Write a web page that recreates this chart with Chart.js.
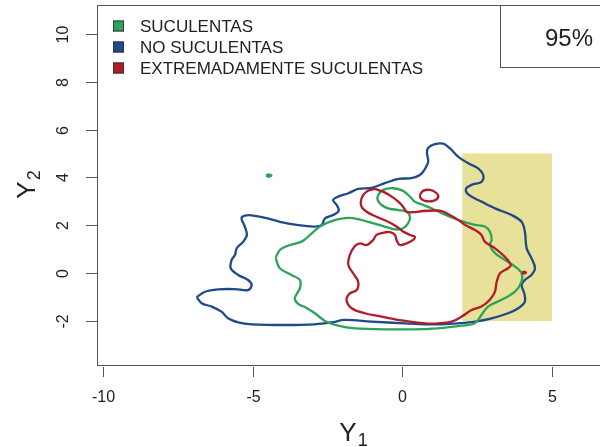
<!DOCTYPE html>
<html>
<head>
<meta charset="utf-8">
<script src="https://cdn.jsdelivr.net/npm/chart.js@4/dist/chart.umd.min.js"></script>
<style>
  html, body { margin: 0; padding: 0; background: #fff; overflow: hidden; }
  #wrap { width: 600px; height: 447px; overflow: hidden; position: relative; }
  canvas { display: block; }
</style>
</head>
<body>
<div id="wrap"><canvas id="c" width="640" height="447"></canvas></div>
<script>
// Axis ticks
const xTicks = [-10, -5, 0, 5];
const yTicks = [-2, 0, 2, 4, 6, 8, 10];

// Groups shown in the legend
const groupNames = ['SUCULENTAS', 'NO SUCULENTAS', 'EXTREMADAMENTE SUCULENTAS'];
const groupColors = ['#2ea35a', '#1e4a8a', '#b01c28'];

// Shaded region (Y1 range, Y2 range)
const shadeY1 = [2, 5];
const shadeY2 = [-2, 5];

// 95% density contours, as [Y1, Y2] pairs
const noSuculentas = [
  [-6.88,-1.00],[-6.60,-0.77],[-6.16,-0.67],[-5.60,-0.66],[-5.16,-0.70],[-5.04,-0.49],[-5.16,-0.28],
  [-5.49,-0.07],[-5.74,0.21],[-5.71,0.56],[-5.60,0.76],[-5.54,1.04],[-5.32,1.32],[-5.20,1.60],
  [-5.27,1.95],[-5.38,2.30],[-5.27,2.41],[-5.04,2.42],[-4.54,2.30],[-4.10,2.15],[-3.54,2.02],
  [-2.98,1.95],[-2.70,2.02],[-2.59,2.29],[-2.32,2.43],[-2.13,2.60],[-2.20,2.85],[-2.32,3.06],
  [-2.15,3.20],[-1.81,3.34],[-1.48,3.52],[-1.03,3.57],[-0.59,3.76],[-0.14,3.94],[0.30,3.97],
  [0.58,4.10],[0.75,4.35],[0.86,4.66],[0.82,5.01],[0.85,5.22],[1.08,5.39],[1.36,5.41],[1.58,5.22],
  [1.86,4.87],[2.20,4.59],[2.53,4.38],[2.70,4.10],[2.64,3.82],[2.31,3.69],[2.12,3.52],[2.22,3.27],
  [2.64,2.99],[3.09,2.71],[3.65,2.43],[3.98,2.15],[4.09,1.74],[4.15,1.04],[4.31,0.63],[4.43,0.21],
  [4.31,-0.07],[4.09,-0.28],[3.98,-0.49],[4.07,-0.84],[4.09,-1.19],[3.87,-1.46],[3.53,-1.67],
  [2.98,-1.88],[2.42,-2.02],[1.86,-2.09],[1.31,-2.13],[0.75,-2.13],[0.08,-2.09],[-1.03,-2.02],
  [-1.93,-1.95],[-2.37,-2.05],[-2.93,-2.13],[-3.93,-2.16],[-5.04,-2.13],[-5.49,-2.05],[-5.83,-1.88],
  [-6.05,-1.60],[-6.38,-1.39],[-6.71,-1.25],[-6.88,-1.00]
];

const suculentas = [
  [-4.24,0.63],[-4.10,0.97],[-3.76,1.18],[-3.37,1.32],[-3.09,1.60],[-2.76,1.95],[-2.32,2.20],
  [-1.76,2.31],[-1.15,2.15],[-0.59,1.95],[-0.25,1.83],[0.02,1.88],[0.19,2.09],[0.25,2.36],
  [0.14,2.57],[-0.14,2.64],[-0.48,2.71],[-0.70,2.85],[-0.83,3.06],[-0.81,3.27],[-0.65,3.48],
  [-0.31,3.55],[0.02,3.44],[0.25,3.20],[0.41,2.99],[0.69,2.85],[0.97,2.71],[1.31,2.51],[1.58,2.36],
  [1.92,2.20],[2.42,2.02],[2.75,1.95],[2.92,1.74],[2.98,1.39],[2.92,1.18],[3.09,0.84],[3.42,0.56],
  [3.76,0.28],[3.98,0.00],[3.98,-0.35],[3.76,-0.77],[3.31,-1.11],[2.86,-1.39],[2.64,-1.74],
  [2.42,-2.09],[1.98,-2.19],[1.42,-2.27],[0.75,-2.33],[-0.48,-2.34],[-1.59,-2.30],[-2.15,-2.19],
  [-2.59,-1.99],[-2.93,-1.67],[-3.26,-1.41],[-3.49,-1.28],[-3.60,-1.04],[-3.43,-0.63],[-3.43,-0.28],
  [-3.71,-0.07],[-4.10,0.21],[-4.24,0.63]
];
const suculentasIsle = [[-4.56,4.08],[-4.47,4.13],[-4.38,4.08],[-4.47,4.03],[-4.56,4.08]];

const extremas = [
  [-0.92,3.52],[-0.65,3.41],[-0.36,3.20],[-0.14,2.99],[0.02,2.78],[0.14,2.57],[0.36,2.55],
  [0.69,2.60],[1.08,2.62],[1.31,2.60],[1.58,2.43],[1.86,2.23],[2.09,2.02],[2.42,1.81],[2.64,1.60],
  [2.75,1.32],[3.09,1.04],[3.42,0.69],[3.62,0.35],[3.53,0.21],[3.26,0.00],[3.15,-0.35],[3.09,-0.77],
  [2.92,-1.11],[2.64,-1.39],[2.31,-1.53],[1.98,-1.81],[1.64,-2.02],[1.19,-2.09],[0.75,-2.09],
  [0.08,-1.99],[-0.70,-1.81],[-1.26,-1.67],[-1.70,-1.46],[-1.87,-1.11],[-1.76,-0.84],[-1.53,-0.70],
  [-1.48,-0.35],[-1.65,0.00],[-1.81,0.35],[-1.76,0.76],[-1.59,1.14],[-1.42,1.25],[-1.20,1.18],
  [-0.98,1.39],[-0.87,1.60],[-0.70,1.68],[-0.42,1.72],[-0.25,1.60],[-0.20,1.39],[-0.09,1.18],
  [0.14,1.25],[0.36,1.39],[0.41,1.53],[0.25,1.60],[0.02,1.74],[-0.20,1.95],[-0.48,2.15],
  [-0.87,2.36],[-1.20,2.57],[-1.37,2.78],[-1.37,3.13],[-1.20,3.41],[-0.92,3.52]
];
const extremasIsle = [[0.58,3.27],[0.69,3.44],[0.92,3.48],[1.14,3.34],[1.19,3.16],[1.03,3.02],[0.75,3.02],[0.61,3.13],[0.58,3.27]];
const extremasSpot = [[4.00,0.03],[4.06,0.07],[4.13,0.03],[4.06,-0.01],[4.00,0.03]];

const FONT = '"Liberation Sans", Arial, Helvetica, sans-serif';

function contour(points, color, order) {
  return {
    data: points.map(p => ({ x: p[0], y: p[1] })),
    showLine: true,
    borderColor: color,
    borderWidth: 2.3,
    pointRadius: 0,
    tension: 0.35,
    fill: false,
    order: order
  };
}

// Shaded band behind the contours
const shadePlugin = {
  id: 'shade',
  beforeDatasetsDraw(chart) {
    const { ctx, scales: { x, y } } = chart;
    const x0 = x.getPixelForValue(shadeY1[0]), x1 = x.getPixelForValue(shadeY1[1]);
    const y0 = y.getPixelForValue(shadeY2[1]), y1 = y.getPixelForValue(shadeY2[0]);
    ctx.save();
    ctx.fillStyle = '#e8e199';
    ctx.fillRect(x0, y0, x1 - x0, y1 - y0);
    ctx.restore();
  }
};

// Frame, axes in base-graphics style, legend and level box
const decorPlugin = {
  id: 'decor',
  afterDraw(chart) {
    const { ctx, chartArea: ca, scales: { x, y } } = chart;
    ctx.save();
    ctx.strokeStyle = '#555';
    ctx.lineWidth = 1;
    ctx.strokeRect(Math.round(ca.left) + 0.5, Math.round(ca.top) + 0.5,
                   Math.round(ca.right - ca.left), Math.round(ca.bottom - ca.top));

    ctx.fillStyle = '#222';
    ctx.font = '16px ' + FONT;
    ctx.textAlign = 'center';
    ctx.textBaseline = 'middle';
    xTicks.forEach(v => {
      const px = Math.round(x.getPixelForValue(v)) + 0.5;
      ctx.beginPath();
      ctx.moveTo(px, ca.bottom + 2);
      ctx.lineTo(px, ca.bottom + 12);
      ctx.stroke();
      ctx.fillText(String(v), px, 398);
    });
    yTicks.forEach(v => {
      const py = Math.round(y.getPixelForValue(v)) + 0.5;
      ctx.beginPath();
      ctx.moveTo(ca.left - 11, py);
      ctx.lineTo(ca.left, py);
      ctx.stroke();
      ctx.save();
      ctx.translate(64, py);
      ctx.rotate(-Math.PI / 2);
      ctx.fillText(String(v), 0, 0);
      ctx.restore();
    });

    // axis titles with subscripts
    function subTitle(main, sub, cx, base) {
      ctx.textAlign = 'left';
      ctx.textBaseline = 'alphabetic';
      ctx.font = '26px ' + FONT;
      const w = ctx.measureText(main).width;
      ctx.font = '18px ' + FONT;
      const s = ctx.measureText(sub).width;
      const start = cx - (w + s) / 2;
      ctx.font = '26px ' + FONT;
      ctx.fillText(main, start, base);
      ctx.font = '18px ' + FONT;
      ctx.fillText(sub, start + w + 1, base + 5);
    }
    subTitle('Y', '1', 353, 441);
    ctx.save();
    ctx.translate(35, 185);
    ctx.rotate(-Math.PI / 2);
    subTitle('Y', '2', 0, 0);
    ctx.restore();

    // legend
    ctx.font = '17px ' + FONT;
    ctx.textAlign = 'left';
    ctx.textBaseline = 'middle';
    const rows = [26, 47, 68];
    groupNames.forEach((name, i) => {
      ctx.fillStyle = groupColors[i];
      ctx.fillRect(113, rows[i] - 5.5, 11, 11);
      ctx.strokeStyle = '#333';
      ctx.strokeRect(113.5, rows[i] - 5, 10, 10);
      ctx.fillStyle = '#222';
      ctx.fillText(name, 140, rows[i] + 1);
    });

    // level box
    ctx.strokeStyle = '#555';
    ctx.strokeRect(500.5, Math.round(ca.top) + 0.5, Math.round(ca.right) - 500, 62);
    ctx.font = '24px ' + FONT;
    ctx.fillStyle = '#222';
    ctx.fillText('95%', 545, 39);
    ctx.restore();
  }
};

new Chart(document.getElementById('c'), {
  type: 'scatter',
  data: {
    datasets: [
      contour(noSuculentas, groupColors[1], 3),
      contour(suculentas, groupColors[0], 2),
      contour(suculentasIsle, groupColors[0], 2),
      contour(extremas, groupColors[2], 1),
      contour(extremasIsle, groupColors[2], 1),
      contour(extremasSpot, groupColors[2], 1)
    ]
  },
  options: {
    responsive: false,
    animation: false,
    devicePixelRatio: 1,
    layout: { padding: { left: 97, top: 5, right: 20, bottom: 82 } },
    scales: {
      x: { type: 'linear', min: -10.21, max: 7.27, display: false },
      y: { type: 'linear', min: -3.83, max: 11.2, display: false }
    },
    plugins: { legend: { display: false }, tooltip: { enabled: false } }
  },
  plugins: [shadePlugin, decorPlugin]
});
</script>
</body>
</html>
